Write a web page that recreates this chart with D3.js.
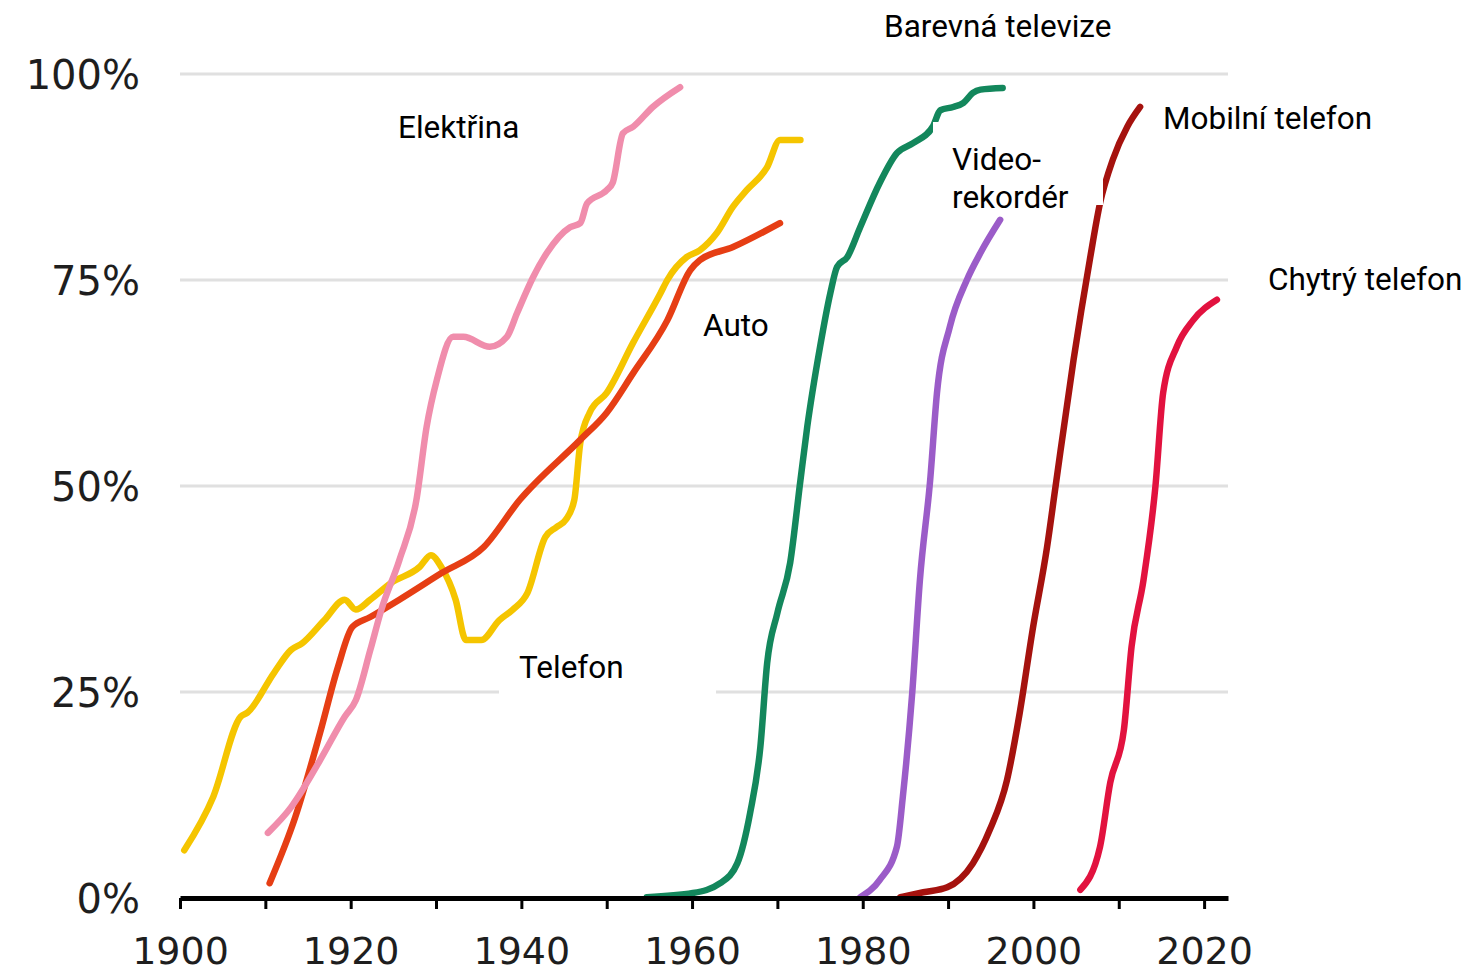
<!DOCTYPE html>
<html>
<head>
<meta charset="utf-8">
<script src="https://cdn.jsdelivr.net/npm/d3@7"></script>
<style>
  html, body { margin: 0; padding: 0; background: #fff; }
  svg { display: block; }
</style>
</head>
<body>
<svg id="chart" width="1474" height="973"></svg>
<script>
// Share of US households using each technology, by year (%)
const telefonYears  = [1900.5,1903.9,1907.1,1907.9,1911.0,1913.0,1914.3,1916.9,1919.3,1920.6,1922.3,1924.7,1928.1,1929.4,1930.6,1932.3,1933.5,1935.3,1937.4,1939.0,1940.7,1942.8,1944.1,1945.2,1946.2,1946.9,1948.0,1950.0,1953.1,1956.3,1957.1,1959.4,1960.9,1962.9,1964.8,1966.4,1968.8,1970.3,1972.7];
const telefonValues = [5.8,12.3,22.0,22.5,27.3,30.1,30.9,33.7,36.2,35.0,36.2,38.2,40.2,41.6,40.2,36.2,31.3,31.3,33.7,35.0,37.0,43.8,45.0,45.9,48.3,55.2,58.9,61.3,67.4,73.4,75.0,77.8,78.6,80.7,83.9,85.9,88.7,92.0,92.0];

const autoYears  = [1910.5,1913.5,1916.4,1918.5,1920.2,1922.3,1925.7,1930.6,1935.6,1939.8,1946.9,1950.0,1953.1,1957.1,1959.8,1960.9,1964.8,1970.3];
const autoValues = [1.8,9.8,20.0,28.0,32.9,34.1,36.2,39.4,42.6,48.3,55.6,58.9,63.7,70.1,76.2,77.4,79.0,81.9];

const elektrinaYears  = [1910.3,1913.0,1916.4,1919.3,1920.6,1922.3,1923.6,1925.7,1927.7,1928.9,1930.1,1932.0,1933.2,1936.3,1938.3,1939.5,1941.4,1943.0,1945.7,1946.9,1947.7,1950.0,1950.7,1951.9,1953.1,1955.4,1958.6];
const elektrinaValues = [7.9,11.0,16.7,22.0,24.0,30.1,35.0,41.0,48.3,57.2,62.9,68.1,68.1,66.9,68.1,71.0,75.4,78.3,81.4,81.9,84.3,85.9,86.8,92.8,93.6,96.0,98.4];

const barevnaTvYears  = [1954.7,1960.1,1963.3,1965.3,1966.8,1968.0,1968.8,1970.0,1971.5,1972.7,1973.5,1975.0,1976.2,1977.0,1978.2,1979.7,1982.0,1984.0,1985.9,1988.2,1989.1,1990.6,1991.8,1992.9,1993.8,1996.4];
const barevnaTvValues = [0.1,0.6,1.8,4.2,10.3,18.3,28.5,34.6,40.7,50.7,57.2,66.9,73.4,76.6,77.8,81.4,86.8,90.4,91.6,93.6,95.6,96.0,96.5,97.7,98.1,98.3];

const videoYears  = [1979.7,1982.0,1984.0,1984.7,1985.8,1986.7,1987.9,1988.7,1990.2,1992.2,1993.8,1996.1];
const videoValues = [0.1,2.2,6.2,12.3,24.9,38.6,50.7,61.3,69.3,75.0,78.3,82.3];

const mobilYears  = [1984.4,1987.1,1989.9,1992.9,1994.9,1996.9,1998.4,1999.9,2001.6,2002.6,2004.7,2006.6,2007.8,2009.3,2011.0,2012.5];
const mobilValues = [0.1,0.7,1.3,4.2,8.3,14.3,22.5,32.5,42.6,50.0,65.3,77.4,84.3,89.6,93.6,96.0];

const chytryYears  = [2005.5,2007.8,2009.0,2010.6,2011.5,2012.9,2014.3,2015.2,2016.8,2018.7,2021.5];
const chytryValues = [1.0,6.2,14.0,20.4,30.5,38.6,50.0,61.3,66.9,70.1,72.6];

const yTicks = [0, 25, 50, 75, 100];
const xTicks = d3.range(1900, 2021, 10);
const xLabelTicks = [1900, 1920, 1940, 1960, 1980, 2000, 2020];

const series = [
  { name: "Telefon",          years: telefonYears,   values: telefonValues,   color: "#F5C500" },
  { name: "Auto",             years: autoYears,      values: autoValues,      color: "#E63E14" },
  { name: "Elektřina",        years: elektrinaYears, values: elektrinaValues, color: "#F08DAC" },
  { name: "Barevná televize", years: barevnaTvYears, values: barevnaTvValues, color: "#13875C" },
  { name: "Videorekordér",    years: videoYears,     values: videoValues,     color: "#9B5CC8" },
  { name: "Mobilní telefon",  years: mobilYears,     values: mobilValues,     color: "#A5120E" },
  { name: "Chytrý telefon",   years: chytryYears,    values: chytryValues,    color: "#E2123F" }
];

const svg = d3.select("#chart");
const x = d3.scaleLinear().domain([1900, 2022.8]).range([180, 1228]);
const y = d3.scaleLinear().domain([0, 100]).range([898, 74]);

// horizontal gridlines
svg.append("g").selectAll("line")
  .data(yTicks.filter(t => t > 0))
  .join("line")
  .attr("x1", x(1900)).attr("x2", x(2022.8))
  .attr("y1", d => y(d)).attr("y2", d => y(d))
  .attr("stroke", "#e0e0e0").attr("stroke-width", 3);

// y labels
svg.append("g").selectAll("text")
  .data(yTicks)
  .join("text")
  .attr("x", 140).attr("y", d => y(d) + 15)
  .attr("text-anchor", "end")
  .attr("font-family", "DejaVu Sans, Verdana, sans-serif")
  .attr("font-size", 40)
  .attr("fill", "#1e1e1e")
  .text(d => d + "%");

// lines
const line = d3.line()
  .x(d => x(d[0])).y(d => y(d[1]))
  .curve(d3.curveMonotoneX);

svg.append("g").selectAll("path")
  .data(series)
  .join("path")
  .attr("d", s => line(s.years.map((yr, i) => [yr, s.values[i]])))
  .attr("fill", "none")
  .attr("stroke", s => s.color)
  .attr("stroke-width", 6.5)
  .attr("stroke-linejoin", "round")
  .attr("stroke-linecap", "round");

// x axis
const xAxis = d3.axisBottom(x)
  .tickValues(xTicks)
  .tickSize(11)
  .tickSizeOuter(0)
  .tickFormat(d => xLabelTicks.includes(d) ? String(d) : "");

const gx = svg.append("g")
  .attr("transform", `translate(0,${y(0)})`)
  .call(xAxis);
gx.select(".domain").attr("stroke", "#000").attr("stroke-width", 5);
gx.selectAll(".tick line").attr("stroke", "#000").attr("stroke-width", 3);
gx.selectAll(".tick text")
  .attr("y", 66).attr("dy", null)
  .attr("font-family", "DejaVu Sans, Verdana, sans-serif")
  .attr("font-size", 38)
  .attr("fill", "#1e1e1e");

// label boxes and labels
const labelBoxes = [
  { x0: 499, y0: 628, x1: 716, y1: 697 },
  { x0: 933, y0: 122, x1: 1103, y1: 205 },
  { x0: 688, y0: 292, x1: 807, y1: 360 }
];
svg.append("g").selectAll("rect")
  .data(labelBoxes)
  .join("rect")
  .attr("x", d => d.x0).attr("y", d => d.y0)
  .attr("width", d => d.x1 - d.x0).attr("height", d => d.y1 - d.y0)
  .attr("fill", "#fff");

const labels = [
  { text: "Barevná televize", x: 884, y: 37 },
  { text: "Elektřina", x: 398, y: 138 },
  { text: "Mobilní telefon", x: 1163, y: 129 },
  { text: "Video-", x: 952, y: 170 },
  { text: "rekordér", x: 952, y: 208 },
  { text: "Auto", x: 703, y: 336 },
  { text: "Telefon", x: 519, y: 678 },
  { text: "Chytrý telefon", x: 1268, y: 290 }
];
svg.append("g").selectAll("text")
  .data(labels)
  .join("text")
  .attr("x", d => d.x).attr("y", d => d.y)
  .attr("font-family", "Roboto, sans-serif")
  .attr("font-size", 31.5)
  .attr("fill", "#000")
  .text(d => d.text);
</script>
</body>
</html>
